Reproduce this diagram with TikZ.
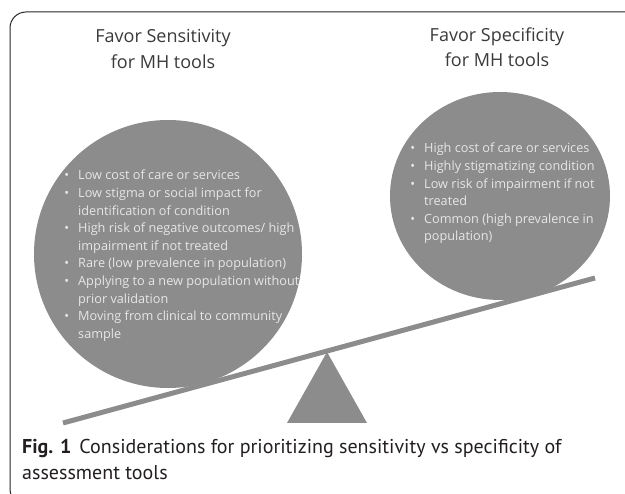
\documentclass[tikz,border=0pt]{standalone}
\usepackage{fontspec}
\usetikzlibrary{shapes.geometric}
\setmainfont{Open Sans}
\newfontfamily\capfont{PT Sans}
\begin{document}
\definecolor{weight}{HTML}{8C8C8C}
\definecolor{itemtext}{HTML}{E6E6E6}
\definecolor{headtext}{HTML}{3A3A3A}
\definecolor{captext}{HTML}{231F20}
\begin{tikzpicture}[x=1pt,y=-1pt,
  heading/.style={font=\fontsize{18}{25.5}\selectfont, text=headtext, align=center, inner sep=0},
  itemlist/.style={font=\fontsize{12.7}{17.6}\selectfont, text=itemtext, align=left, inner sep=0, anchor=north west},
  pan/.style={ellipse, fill=weight, inner sep=0},
  beamline/.style={draw=weight, line width=5pt},
]
\useasboundingbox (0,0) rectangle (625,494);
% open frame around the figure
\begin{scope}
  \clip (0,0) rectangle (625,494);
  \draw[line width=1pt, draw=black!85, rounded corners=16pt] (10,12) rectangle (660,505);
\end{scope}

% the two weights on the seesaw
\node[pan, minimum width=268pt, minimum height=268pt] (sens) at (168,254) {};
\node[pan, minimum width=220pt, minimum height=208pt] (spec) at (500,196) {};

% beam and fulcrum
\coordinate (beamL) at (63,423);
\coordinate (beamR) at (595,278);
\draw[beamline] (beamL) -- (beamR);
\coordinate (apex) at (327,352);
\coordinate (baseL) at (287,423);
\coordinate (baseR) at (367,423);
\fill[weight] (apex) -- (baseL) -- (baseR) -- cycle;

% headings
\node[heading] (hsens) at (163,49) {Favor Sensitivity\\for MH tools};
\node[heading] (hspec) at (497,47) {Favor Specificity\\for MH tools};

% bullet lists
\newcommand{\bl}{\makebox[0pt][r]{•\hspace{9pt}}}
\node[itemlist] (lsens) at (78,170) {%
\bl Low cost of care or services\\
\bl Low stigma or social impact for\\
identification of condition\\
\bl High risk of negative outcomes/ high\\
impairment if not treated\\
\bl Rare (low prevalence in population)\\
\bl Applying to a new population without\\
prior validation\\
\bl Moving from clinical to community\\
sample};
\node[itemlist] (lspec) at (424,143) {%
\bl High cost of care or services\\
\bl Highly stigmatizing condition\\
\bl Low risk of impairment if not\\
treated\\
\bl Common (high prevalence in\\
population)};

% caption
\node[font=\capfont\fontsize{20}{26}\selectfont, text=captext, align=left, inner sep=0, anchor=north west] (cap) at (22,439)
  {\textbf{Fig. 1}\hspace{8pt}Considerations for prioritizing sensitivity vs specificity of\\assessment tools};
\end{tikzpicture}
\end{document}
